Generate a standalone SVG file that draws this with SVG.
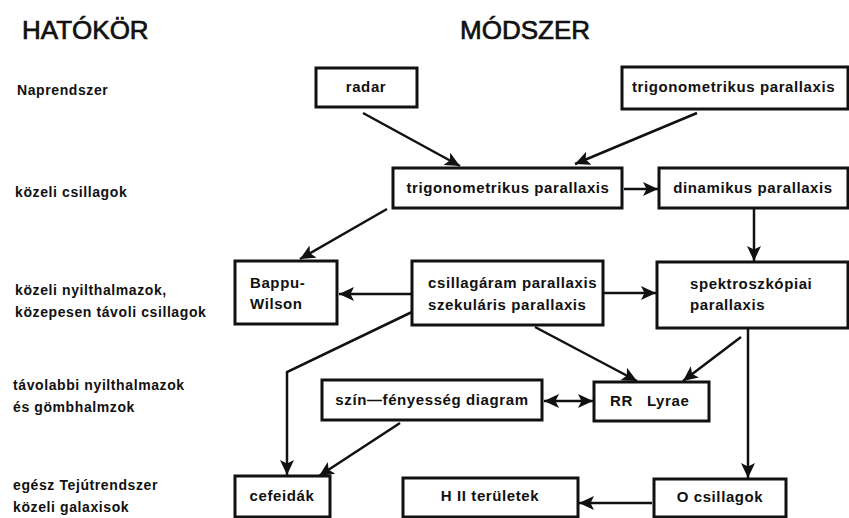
<svg xmlns="http://www.w3.org/2000/svg" width="849" height="518" viewBox="0 0 849 518">
<defs>
<marker id="ah" markerUnits="userSpaceOnUse" markerWidth="18" markerHeight="16" refX="15" refY="7" orient="auto-start-reverse">
<path d="M0,0 L15,7 L0,14 L3.5,7 z" fill="#111"/>
</marker>
<style>
.box{fill:#fff;stroke:#111;stroke-width:3}
.t{font-family:"Liberation Sans",Arial,sans-serif;font-weight:bold;font-size:15px;letter-spacing:0.6px;fill:#111}
.m{text-anchor:middle}
.lab{font-family:"Liberation Sans",Arial,sans-serif;font-weight:bold;font-size:14px;letter-spacing:0.6px;fill:#111}
.title{font-family:"Liberation Sans",Arial,sans-serif;font-size:26px;fill:#111;stroke:#111;stroke-width:0.7}
.c{fill:none;stroke:#111;stroke-width:2.5;marker-end:url(#ah)}
</style>
</defs>
<rect width="849" height="518" fill="#fff"/>
<g id="titles">
<text class="title" x="22" y="39">HATÓKÖR</text>
<text class="title" x="460" y="39">MÓDSZER</text>
</g>
<g id="scope-labels">
<text class="lab" x="17" y="95">Naprendszer</text>
<text class="lab" x="15" y="197">közeli csillagok</text>
<text class="lab" x="15" y="295">közeli nyilthalmazok,</text>
<text class="lab" x="15" y="317">közepesen távoli csillagok</text>
<text class="lab" x="13" y="390">távolabbi nyilthalmazok</text>
<text class="lab" x="13" y="412">és gömbhalmzok</text>
<text class="lab" x="13" y="490">egész Tejútrendszer</text>
<text class="lab" x="13" y="512">közeli galaxisok</text>
</g>
<g id="connectors">
<line class="c" x1="363" y1="113" x2="460" y2="166"/>
<line class="c" x1="697" y1="113" x2="575" y2="164"/>
<line class="c" x1="624" y1="189" x2="658" y2="189"/>
<line class="c" x1="387" y1="209" x2="300" y2="259"/>
<line class="c" x1="754" y1="209" x2="754" y2="261"/>
<line class="c" x1="411" y1="294" x2="339" y2="294"/>
<line class="c" x1="604" y1="293" x2="656" y2="293"/>
<line class="c" x1="535" y1="327" x2="637" y2="381"/>
<line class="c" x1="741" y1="337" x2="683" y2="381"/>
<line class="c" x1="748" y1="329" x2="748" y2="478"/>
<polyline class="c" points="412,312 287,372 287,475"/>
<line class="c" x1="400" y1="423" x2="319" y2="476"/>
<line class="c" x1="544" y1="401" x2="593" y2="401" marker-start="url(#ah)"/>
<line class="c" x1="652" y1="503" x2="579" y2="503"/>
</g>
<g id="radar">
<rect class="box" x="316" y="68" width="101" height="39"/>
<text class="t m" x="366" y="92">radar</text>
</g>
<g id="trig-top">
<rect class="box" x="622" y="67" width="226" height="42"/>
<text class="t" x="632" y="92">trigonometrikus parallaxis</text>
</g>
<g id="trig-mid">
<rect class="box" x="393" y="168" width="229" height="40"/>
<text class="t m" x="508" y="193">trigonometrikus parallaxis</text>
</g>
<g id="dinamikus">
<rect class="box" x="659" y="168" width="189" height="40"/>
<text class="t m" x="753" y="193">dinamikus parallaxis</text>
</g>
<g id="bappu">
<rect class="box" x="235" y="261" width="102" height="63"/>
<text class="t" x="250" y="288">Bappu-</text>
<text class="t" x="250" y="309">Wilson</text>
</g>
<g id="csillagaram">
<rect class="box" x="412" y="261" width="191" height="64"/>
<text class="t" x="428" y="288">csillagáram parallaxis</text>
<text class="t" x="428" y="310">szekuláris parallaxis</text>
</g>
<g id="spektro">
<rect class="box" x="657" y="262" width="191" height="66"/>
<text class="t" x="690" y="289">spektroszkópiai</text>
<text class="t" x="690" y="310">parallaxis</text>
</g>
<g id="szin">
<rect class="box" x="322" y="380" width="220" height="40"/>
<text class="t m" x="432" y="405">szín—fényesség diagram</text>
</g>
<g id="rr-lyrae">
<rect class="box" x="594" y="382" width="115" height="39"/>
<text class="t" x="610" y="406">RR<tspan dx="14">Lyrae</tspan></text>
</g>
<g id="cefeidak">
<rect class="box" x="235" y="476" width="95" height="41"/>
<text class="t m" x="282" y="501">cefeidák</text>
</g>
<g id="h2">
<rect class="box" x="403" y="478" width="175" height="39"/>
<text class="t m" x="490" y="501">H II területek</text>
</g>
<g id="o-csillagok">
<rect class="box" x="654" y="479" width="132" height="38"/>
<text class="t m" x="720" y="502">O csillagok</text>
</g>
</svg>
